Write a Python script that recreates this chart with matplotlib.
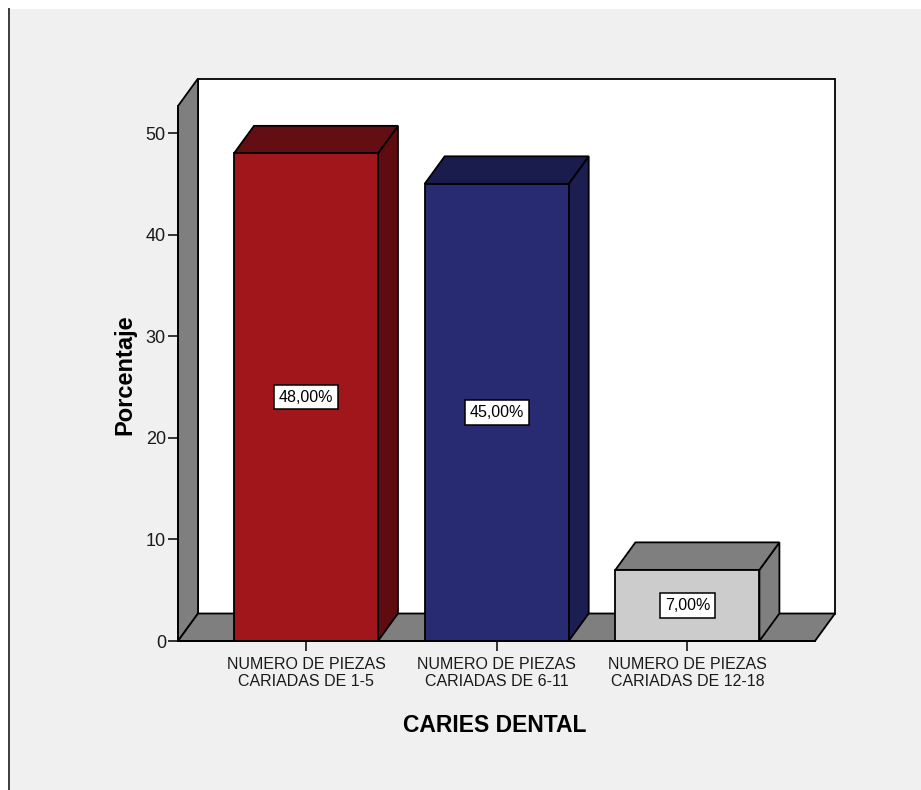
import matplotlib
matplotlib.use("Agg")
import matplotlib.pyplot as plt
from matplotlib.patches import Polygon, Rectangle
from matplotlib.lines import Line2D

# --- data ---------------------------------------------------------------
categories = [
    "NUMERO DE PIEZAS\nCARIADAS DE 1-5",
    "NUMERO DE PIEZAS\nCARIADAS DE 6-11",
    "NUMERO DE PIEZAS\nCARIADAS DE 12-18",
]
percentages = [48.0, 45.0, 7.0]
y_ticks = [0, 10, 20, 30, 40, 50]

front_colors = ["#a0161a", "#282a72", "#cccccc"]
top_colors = ["#630e12", "#1b1c4e", "#7f7f7f"]
side_colors = ["#5e0c10", "#1c1d50", "#7f7f7f"]

NARROW = ["Liberation Sans Narrow", "Liberation Sans", "DejaVu Sans"]
REGULAR = ["Liberation Sans", "DejaVu Sans"]

W, H = 921, 790
fig = plt.figure(figsize=(W / 100, H / 100), dpi=100, facecolor="white")

# grey panel with a dark left border
fig.patches.append(Rectangle((9 / W, 0), 1 - 9 / W, (H - 9) / H,
                             transform=fig.transFigure, facecolor="#f0f0f0",
                             edgecolor="none", zorder=-5))
fig.add_artist(Line2D([8.5 / W, 8.5 / W], [0, (H - 9) / H],
                      transform=fig.transFigure, color="#3c3c3c", lw=1.4, zorder=-4))

# front plane of the 3D box
ax = fig.add_axes([178 / W, 149 / H, 637 / W, 535 / H])
xlo, xhi = -0.671, 2.669
ymax = 52.66
ax.set_xlim(xlo, xhi)
ax.set_ylim(0, ymax)
ax.patch.set_visible(False)

# depth of the 3D effect, expressed in data units
dx = 20 * (xhi - xlo) / 637
dy = 27.5 * ymax / 535
edge = dict(edgecolor="black", linewidth=1.3, clip_on=False)

# back wall, side wall and floor
ax.add_patch(Rectangle((xlo + dx, dy), xhi - xlo, ymax, facecolor="white",
                       zorder=1, **edge))
ax.add_patch(Polygon([(xlo, 0), (xlo, ymax), (xlo + dx, ymax + dy), (xlo + dx, dy)],
                     closed=True, facecolor="#7f7f7f", zorder=2, **edge))
ax.add_patch(Polygon([(xlo, 0), (xhi, 0), (xhi + dx, dy), (xlo + dx, dy)],
                     closed=True, facecolor="#7f7f7f", zorder=2, **edge))

bar_w = 0.755
for i, (v, fc, tc, sc) in enumerate(zip(percentages, front_colors, top_colors, side_colors)):
    x0, x1 = i - bar_w / 2, i + bar_w / 2
    ax.add_patch(Polygon([(x1, 0), (x1 + dx, dy), (x1 + dx, v + dy), (x1, v)],
                         closed=True, facecolor=sc, zorder=3, **edge))
    ax.add_patch(Polygon([(x0, v), (x1, v), (x1 + dx, v + dy), (x0 + dx, v + dy)],
                         closed=True, facecolor=tc, zorder=3, **edge))
    ax.add_patch(Rectangle((x0, 0), bar_w, v, facecolor=fc, zorder=3, **edge))
    ax.text(i, v / 2, f"{v:.2f}%".replace(".", ","), ha="center", va="center",
            family=REGULAR, fontsize=11.5, color="black", zorder=5,
            bbox=dict(boxstyle="square,pad=0.3", facecolor="white",
                      edgecolor="black", linewidth=1.1))

# axes lines and ticks
for side in ("top", "right"):
    ax.spines[side].set_visible(False)
for side in ("left", "bottom"):
    ax.spines[side].set_linewidth(1.3)
    ax.spines[side].set_zorder(4)

ax.set_yticks(y_ticks)
ax.set_yticklabels([str(t) for t in y_ticks], family=NARROW, fontsize=13, color="#1a1a1a")
ax.set_xticks(range(len(categories)))
ax.set_xticklabels(categories, family=NARROW, fontsize=11.5, color="#1a1a1a",
                   linespacing=1.2)
ax.tick_params(axis="y", length=7.2, width=1.1, pad=1.5)
ax.tick_params(axis="x", length=7.2, width=1.1, pad=4)

fig.text(125 / W, 1 - 375 / H, "Porcentaje", rotation=90, ha="center", va="center",
         family=REGULAR, fontsize=17, fontweight="bold")
fig.text(495 / W, 1 - 725 / H, "CARIES DENTAL", ha="center", va="center",
         family=NARROW, fontsize=16.5, fontweight="bold")

fig.savefig("out.png", dpi=100)
